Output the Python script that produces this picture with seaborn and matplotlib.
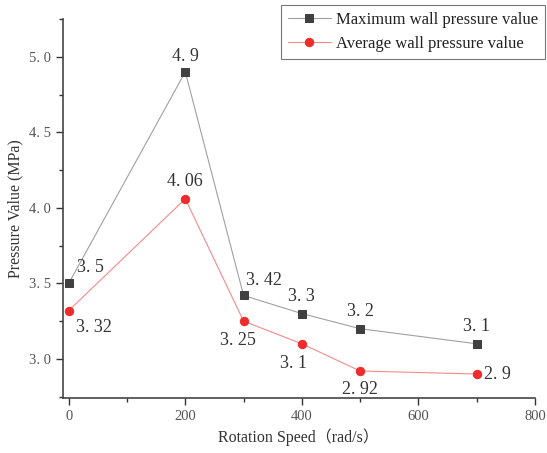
import matplotlib

matplotlib.use("Agg")
import matplotlib.pyplot as plt
import numpy as np
import pandas as pd
import seaborn as sns
from matplotlib.ticker import FuncFormatter, MultipleLocator

speed = [0, 200, 300, 400, 500, 700]
max_pressure = [3.5, 4.9, 3.42, 3.3, 3.2, 3.1]
avg_pressure = [3.32, 4.06, 3.25, 3.1, 2.92, 2.9]
max_labels = ["3. 5", "4. 9", "3. 42", "3. 3", "3. 2", "3. 1"]
avg_labels = ["3. 32", "4. 06", "3. 25", "3. 1", "2. 92", "2. 9"]

# label offsets in points (dx, dy, ha)
max_offsets = [(6, 5, "left"), (0, 5, "center"), (2, 5, "left"), (0, 6, "center"), (0, 6, "center"), (0, 6, "center")]
avg_offsets = [(5, -6, "left"), (0, 6, "center"), (-4, -8, "center"), (-6, -8, "center"), (0, -7, "center"), (5, 0, "left")]

MAX_NAME = "Maximum wall pressure value"
AVG_NAME = "Average wall pressure value"

df = pd.concat(
    [
        pd.DataFrame({"speed": speed, "value": max_pressure, "series": MAX_NAME}),
        pd.DataFrame({"speed": speed, "value": avg_pressure, "series": AVG_NAME}),
    ]
)

sns.set_style("ticks")
plt.rcParams["font.family"] = ["Liberation Serif", "DejaVu Serif"]

fig = plt.figure(figsize=(5.47, 4.53), dpi=100)
ax = fig.add_axes([0.115, 0.121, 0.863, 0.837])

line_colors = {MAX_NAME: "#a0a0a0", AVG_NAME: "#f58a8a"}
marker_colors = {MAX_NAME: "#404040", AVG_NAME: "#ee2c2c"}
markers = {MAX_NAME: "s", AVG_NAME: "o"}

for name in [MAX_NAME, AVG_NAME]:
    sub = df[df["series"] == name]
    sns.lineplot(
        data=sub,
        x="speed",
        y="value",
        ax=ax,
        color=line_colors[name],
        linewidth=0.8,
        marker=markers[name],
        markersize=5.5 if name == MAX_NAME else 6,
        markerfacecolor=marker_colors[name],
        markeredgecolor=marker_colors[name],
        label=name,
    )

for x, y, lab, (dx, dy, ha) in zip(speed, max_pressure, max_labels, max_offsets):
    va = "bottom" if dy > 0 else ("top" if dy < 0 else "center")
    ax.annotate(lab, (x, y), xytext=(dx, dy), textcoords="offset points",
                ha=ha, va=va, fontsize=13, color="#333333")
for x, y, lab, (dx, dy, ha) in zip(speed, avg_pressure, avg_labels, avg_offsets):
    va = "bottom" if dy > 0 else ("top" if dy < 0 else "center")
    ax.annotate(lab, (x, y), xytext=(dx, dy), textcoords="offset points",
                ha=ha, va=va, fontsize=13, color="#333333")

ax.set_xlim(-10, 800)
ax.set_ylim(2.74, 5.25)
ax.xaxis.set_major_locator(MultipleLocator(200))
ax.xaxis.set_minor_locator(MultipleLocator(100))
ax.yaxis.set_major_locator(MultipleLocator(0.5))
ax.yaxis.set_minor_locator(MultipleLocator(0.25))
ax.yaxis.set_major_formatter(FuncFormatter(lambda v, p: f"{v:.1f}".replace(".", ". ")))
ax.tick_params(axis="both", which="major", direction="out", length=5, width=1.0,
               labelsize=10.5, labelcolor="#555555", color="#333333")
ax.tick_params(axis="both", which="minor", direction="out", length=3, width=1.0, color="#333333")

ax.set_xlabel("Rotation Speed\uff08rad/s\uff09", fontsize=11.5, color="#333333")
ax.xaxis.label.set_family(["Liberation Serif", "Noto Sans CJK SC"])
ax.set_ylabel("Pressure Value (MPa)", fontsize=11.5, color="#333333")

sns.despine(ax=ax)
for s in ["left", "bottom"]:
    ax.spines[s].set_linewidth(1.2)
    ax.spines[s].set_color("#444444")

leg = ax.legend(loc="upper right", bbox_to_anchor=(0.996, 0.989), bbox_transform=fig.transFigure,
                borderaxespad=0, fontsize=12, frameon=True, fancybox=False, edgecolor="#555555",
                borderpad=0.4, handlelength=2.6, handletextpad=0.3, labelspacing=0.5)
leg.get_frame().set_linewidth(0.8)
for t in leg.get_texts():
    t.set_color("#222222")

fig.savefig("out.png", dpi=100)
